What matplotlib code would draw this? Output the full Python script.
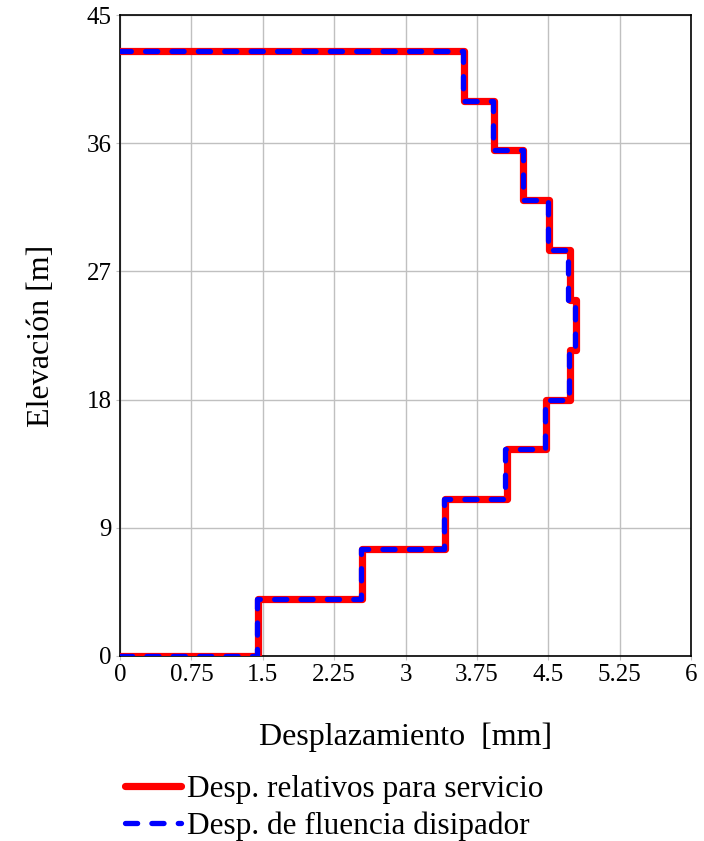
import matplotlib.pyplot as plt
import numpy as np

plt.rcParams['font.family'] = ['Liberation Serif', 'DejaVu Serif']

# story levels [m]
niveles = [0, 4, 7.5, 11, 14.5, 18, 21.5, 25, 28.5, 32, 35.5, 39, 42.5]
# drift per story [mm]
desp_servicio = [1.45, 2.54, 3.42, 4.07, 4.48, 4.73, 4.79, 4.73, 4.51, 4.24, 3.93, 3.61]
desp_fluencia = [1.44, 2.53, 3.40, 4.05, 4.47, 4.72, 4.78, 4.71, 4.50, 4.23, 3.92, 3.60]

x_ticks = [0, 0.75, 1.5, 2.25, 3, 3.75, 4.5, 5.25, 6]
x_labels = ['0', '0.75', '1.5', '2.25', '3', '3.75', '4.5', '5.25', '6']
y_ticks = [0, 9, 18, 27, 36, 45]


def perfil(d, h):
    xs = [0]
    ys = [h[0]]
    for i, v in enumerate(d):
        xs += [v, v]
        ys += [h[i], h[i + 1]]
    xs.append(0)
    ys.append(h[-1])
    return xs, ys


fig = plt.figure(figsize=(7.04, 8.41), dpi=100)
ax = fig.add_axes([0.1705, 0.22, 0.811, 0.762])

xr, yr = perfil(desp_servicio, niveles)
xb, yb = perfil(desp_fluencia, niveles)
ax.plot(xr, yr, color='red', lw=5.2, solid_joinstyle='round', solid_capstyle='round',
        label='Desp. relativos para servicio', zorder=3)
ax.plot(xb, yb, color='blue', lw=3.8, ls=(0, (2.3, 2.7)), dash_capstyle='round',
        label='Desp. de fluencia disipador', zorder=4)

ax.set_xlim(0, 6)
ax.set_ylim(0, 45)
ax.set_xticks(x_ticks)
ax.set_xticklabels(x_labels)
ax.set_yticks(y_ticks)
ax.grid(True, color='#c0c0c0', lw=1)
ax.tick_params(labelsize=18, length=3, color='#c0c0c0', pad=3)
for s in ax.spines.values():
    s.set_linewidth(1.2)

ax.set_xlabel('Desplazamiento  [mm]', fontsize=23, labelpad=26)
ax.set_ylabel('Elevación [m]', fontsize=23, labelpad=22)

fig.legend(loc='upper left', bbox_to_anchor=(0.155, 0.097), frameon=False,
           fontsize=22.5, handlelength=1.8, handletextpad=0.2, labelspacing=0.25,
           borderpad=0)

fig.savefig('out.png', dpi=100)
